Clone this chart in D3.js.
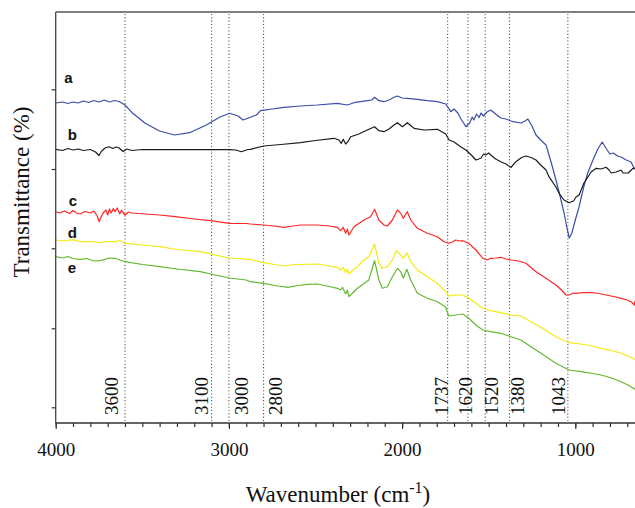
<!DOCTYPE html>
<html><head><meta charset="utf-8">
<script src="https://cdn.jsdelivr.net/npm/d3@7"></script>
<style>html,body{margin:0;padding:0;background:#fff;} svg{display:block;}
.serif{font-family:"Liberation Serif","DejaVu Serif","Times New Roman",serif;}
.sans{font-family:"Liberation Sans",Arial,"DejaVu Sans",sans-serif;}
</style>
</head><body><svg id="c" width="635" height="508"></svg>
<script>
// ---------- data (wavenumber cm-1, relative transmittance) ----------
const seriesNames = ["a","b","c","d","e"];
const seriesA = [[4000,320],[3960,321],[3930,319.5],[3900,321],[3870,320],[3840,322],[3810,320.5],[3780,322.5],[3750,321],[3720,323],[3690,321],[3660,322.5],[3634,321.5],[3600,318],[3555,309.7],[3483,299.7],[3401,292],[3314,288],[3227,290.3],[3130,298],[3054,305.7],[2996,309.7],[2947,307],[2918,303],[2876,305.7],[2841,308],[2818,312.3],[2750,314],[2683,315.7],[2587,317],[2490,318],[2374,319.7],[2316,318],[2278,320.3],[2201,322.3],[2175,323],[2159,325.7],[2134,322.3],[2105,321.3],[2075,323],[2047,325.7],[2027,327],[2000,325],[1970,324.7],[1912,323.7],[1854,322.3],[1796,321.3],[1748,319],[1719,311.3],[1700,314],[1678,310],[1660,304],[1645,300],[1632,296.3],[1610,300],[1595,306],[1586,303],[1570,309],[1555,305.5],[1545,310],[1530,307],[1510,311],[1488,313],[1460,309],[1430,305],[1400,304],[1360,301.3],[1314,300],[1290,302],[1274,304],[1250,297],[1227,288],[1200,283],[1169,278],[1135,258],[1095,232],[1065,210],[1048,195],[1035,185],[1020,190],[1000,203],[980,215],[950,237],[928,250],[898,263],[870,274],[845,281],[820,274],[800,269],[780,270],[764,268],[750,266.5],[736,266],[706,263],[678,261],[658,254],[649,256]];
const seriesB = [[4000,273.7],[3960,272.5],[3930,274.5],[3900,273],[3870,274],[3840,272.5],[3800,273.5],[3770,271],[3750,267.5],[3735,272],[3715,275],[3692,276.3],[3670,274.5],[3650,276],[3634,275],[3611,271.5],[3590,274],[3560,272.5],[3500,273.5],[3400,273.3],[3300,273.5],[3200,273.3],[3100,273.5],[2997,273.3],[2960,273],[2928,271.3],[2890,273.5],[2876,273.7],[2799,277],[2700,278.5],[2587,280.3],[2500,282.5],[2394,284.7],[2365,283],[2351,279.7],[2340,283.7],[2326,279],[2313,281.3],[2297,286.3],[2250,289],[2201,293],[2159,296.3],[2134,292.3],[2105,291.3],[2075,294],[2047,298],[2027,300.3],[1998,296.3],[1970,300.3],[1931,294.7],[1873,293],[1796,293.7],[1748,289],[1729,283],[1700,281],[1660,276],[1632,273],[1600,268],[1574,263],[1545,264.7],[1530,269],[1517,268],[1500,270],[1488,268],[1460,264],[1430,261.3],[1400,259],[1372,255.5],[1343,261.3],[1310,265.5],[1285,267],[1255,265.5],[1227,263],[1200,258],[1169,253],[1152,246.3],[1112,236],[1094,229.7],[1065,223],[1036,220.3],[1010,222],[996,226],[978,228],[950,240],[926,246.3],[909,251],[880,254.7],[851,254],[822,255.7],[805,253],[793,250],[764,251],[736,253],[724,250],[695,250],[666,254.7],[649,254.7]];
const seriesC = [[4000,211.3],[3975,210],[3950,212],[3920,209.5],[3900,212.5],[3880,210],[3859,209],[3830,211.5],[3800,210],[3780,212],[3760,207],[3750,201.3],[3738,206],[3726,210],[3710,213],[3700,208],[3690,214],[3680,210],[3667,214.5],[3657,211.3],[3645,215],[3630,209],[3620,213],[3610,210],[3599,208],[3580,211],[3560,210],[3520,209.5],[3483,209],[3400,208],[3310,206.3],[3200,204],[3107,202.3],[2997,199.7],[2900,199.5],[2876,199],[2801,198],[2740,197],[2683,195.7],[2630,197],[2587,198],[2490,198],[2420,197],[2374,195.7],[2355,192.3],[2340,195.7],[2326,189.7],[2316,193.7],[2307,188],[2278,196.3],[2220,203],[2182,206.3],[2159,213.7],[2134,203],[2105,198],[2085,197],[2056,203],[2027,213],[2008,209.7],[1993,204.7],[1970,211.3],[1950,203],[1912,194.7],[1854,189.7],[1796,186.3],[1758,181.3],[1730,179.7],[1710,181],[1690,183],[1670,182],[1650,182.3],[1615,179.7],[1574,173],[1534,164.7],[1510,163],[1488,164.7],[1460,165],[1430,165.7],[1400,164],[1372,163],[1326,162],[1285,159.7],[1227,151.3],[1169,144.7],[1112,138],[1080,133],[1054,128],[1036,128],[1010,130],[996,129.7],[950,130.5],[909,130.3],[860,129.5],[822,128],[780,126.5],[736,124.7],[700,123],[678,121.3],[660,118],[655,122],[649,119.7]];
const seriesD = [[4000,183],[3950,182],[3900,183.3],[3859,181.3],[3800,181.5],[3744,180.3],[3700,181.5],[3657,181.3],[3630,182.5],[3599,179.7],[3500,178],[3397,176.3],[3300,173.5],[3165,171.3],[3000,165],[2876,163.7],[2801,160.3],[2720,158],[2683,157],[2620,158.5],[2490,159],[2420,157],[2374,155.7],[2355,153],[2340,155.7],[2326,150.3],[2316,153.7],[2307,149],[2278,153.7],[2258,156.3],[2220,163],[2192,166.3],[2159,179],[2134,159.7],[2114,154.7],[2085,156.3],[2056,163],[2033,172.3],[2008,168],[1993,164.7],[1973,170.3],[1950,161.3],[1912,153],[1854,146.3],[1796,139.7],[1750,131.3],[1730,127],[1690,128],[1650,128],[1615,124.7],[1574,119.7],[1534,114.7],[1488,112.3],[1430,110.3],[1372,108],[1314,107],[1256,101.3],[1198,95.7],[1112,86.3],[1036,80.3],[967,79],[900,77],[851,74.7],[790,72.5],[736,69.7],[690,66.5],[649,63]];
const seriesE = [[4000,166.3],[3960,165],[3930,166.5],[3900,164.5],[3859,163.7],[3820,164.5],[3780,162],[3744,162.3],[3720,163.5],[3690,165],[3657,164.7],[3630,163],[3599,161.3],[3500,158.5],[3397,156.3],[3300,154],[3165,151.3],[3080,148],[2997,145],[2900,143],[2876,141.3],[2801,139.7],[2720,137],[2683,136.3],[2662,135.7],[2600,137.5],[2546,138.7],[2490,139],[2420,136.5],[2374,134.7],[2355,133],[2344,135.7],[2326,129],[2316,133],[2307,126.3],[2280,131],[2258,134.7],[2192,143],[2159,162.3],[2134,143],[2114,134.7],[2085,136.3],[2056,146.3],[2027,154.7],[2008,151.3],[1993,144.7],[1973,153.7],[1950,143],[1912,129.7],[1854,124.7],[1796,121.3],[1750,116.3],[1730,107],[1690,108],[1650,109],[1615,104.7],[1574,98],[1534,93],[1488,91.3],[1430,89.7],[1372,86.3],[1314,83],[1256,76.3],[1198,69.7],[1112,59.7],[1036,53],[967,51.3],[900,49.5],[851,48],[790,45],[736,41.3],[690,37.5],[649,33]];
const peakWavenumbers = [3600,3100,3000,2800,1737,1620,1520,1380,1043];
const peakLabels = ["3600","3100","3000","2800","1737","1620","1520","1380","1043"];
const xTickValues = [4000,3000,2000,1000];
const xTickLabels = ["4000","3000","2000","1000"];
const yTickValues = [15.7,94.7,174.7,254,333.7];

// ---------- layout / style ----------
const seriesData = [seriesA, seriesB, seriesC, seriesD, seriesE];
const seriesColors = ["#3b4ea6","#1c1c1c","#ff2626","#f2ea10","#62b832"];
const seriesLabelAt = [[3950,340],[3931,283],[3925,217.3],[3931,185],[3931,150]];
const peakLabelDx = [-6.7,-3.3,19.4,18.2,0.6,3.7,12.4,14.8,-2.9];

const svg = d3.select("#c");
svg.append("rect").attr("width",635).attr("height",508).attr("fill","#fff");
const x = d3.scaleLinear().domain([4000,1000]).range([55.7,575.3]);
const y = d3.scaleLinear().domain([0,411]).range([423,12]);
const pL = 55.7, pT = 12, pB = 423, pR = 635;

svg.append("defs").append("clipPath").attr("id","clip")
  .append("rect").attr("x",pL).attr("y",pT).attr("width",pR-pL).attr("height",pB-pT);

// dotted reference lines
const g = svg.append("g");
g.selectAll("line.peak").data(peakWavenumbers).join("line")
  .attr("x1",d=>x(d)).attr("x2",d=>x(d)).attr("y1",pT+2).attr("y2",pB-1)
  .attr("stroke","#555").attr("stroke-width",1.1).attr("stroke-dasharray","1.1,2.2");

// spectra
const line = d3.line().x(d=>x(d[0])).y(d=>y(d[1]));
svg.append("g").attr("clip-path","url(#clip)")
  .selectAll("path").data(seriesData).join("path")
  .attr("d",line).attr("fill","none")
  .attr("stroke",(d,i)=>seriesColors[i]).attr("stroke-width",1.2)
  .attr("stroke-linejoin","round");

// peak labels
g.selectAll("text.pk").data(peakLabels).join("text")
  .attr("class","serif")
  .attr("transform",(d,i)=>`translate(${x(peakWavenumbers[i])+peakLabelDx[i]},415) rotate(-90)`)
  .attr("font-size",19).attr("fill","#111").text(d=>d);

// series letters
svg.selectAll("text.sl").data(seriesNames).join("text")
  .attr("class","sans")
  .attr("x",(d,i)=>x(seriesLabelAt[i][0])).attr("y",(d,i)=>y(seriesLabelAt[i][1]))
  .attr("font-size",15).attr("font-weight","bold")
  .attr("fill","#111").text(d=>d);

// axes
const minor = d3.range(4000,640,-100);
const axMinor = d3.axisBottom(x).tickValues(minor).tickSize(4).tickFormat("");
const gMinor = svg.append("g").attr("transform",`translate(0,${pB})`).call(axMinor);
gMinor.select(".domain").remove();
const axMajor = d3.axisBottom(x).tickValues(xTickValues).tickSize(6).tickPadding(14)
  .tickFormat((d,i)=>xTickLabels[i]);
const gMajor = svg.append("g").attr("transform",`translate(0,${pB})`).call(axMajor);
gMajor.select(".domain").remove();
gMajor.attr("font-family",null).attr("font-size",null);
gMinor.attr("font-family",null);
svg.selectAll(".tick line").attr("stroke","#333").attr("stroke-width",1.2);
gMajor.selectAll("text").attr("class","serif").attr("font-size",19).attr("fill","#111");

const axY = d3.axisLeft(y).tickValues(yTickValues).tickSize(4).tickFormat("");
const gY = svg.append("g").attr("transform",`translate(${pL},0)`).call(axY);
gY.select(".domain").remove();
gY.selectAll(".tick line").attr("stroke","#333").attr("stroke-width",1.2);

// frame
svg.append("line").attr("x1",pL).attr("x2",pR).attr("y1",pB).attr("y2",pB)
  .attr("stroke","#333").attr("stroke-width",1.5);
svg.append("line").attr("x1",pL).attr("x2",pL).attr("y1",pT).attr("y2",pB)
  .attr("stroke","#444").attr("stroke-width",1.3);
svg.append("line").attr("x1",pL).attr("x2",pR).attr("y1",pT).attr("y2",pT)
  .attr("stroke","#555").attr("stroke-width",1.6);

// axis titles
const xt = svg.append("text").attr("class","serif").attr("x",338).attr("y",502).attr("text-anchor","middle")
  .attr("font-size",23).attr("fill","#111");
xt.append("tspan").text("Wavenumber (cm");
xt.append("tspan").attr("dy",-9).attr("font-size",16).text("-1");
xt.append("tspan").attr("dy",9).text(")");

svg.append("text").attr("class","serif").attr("transform","translate(29,192) rotate(-90)").attr("text-anchor","middle")
  .attr("font-size",23).attr("fill","#111")
  .text("Transmittance (%)");
</script></body></html>
